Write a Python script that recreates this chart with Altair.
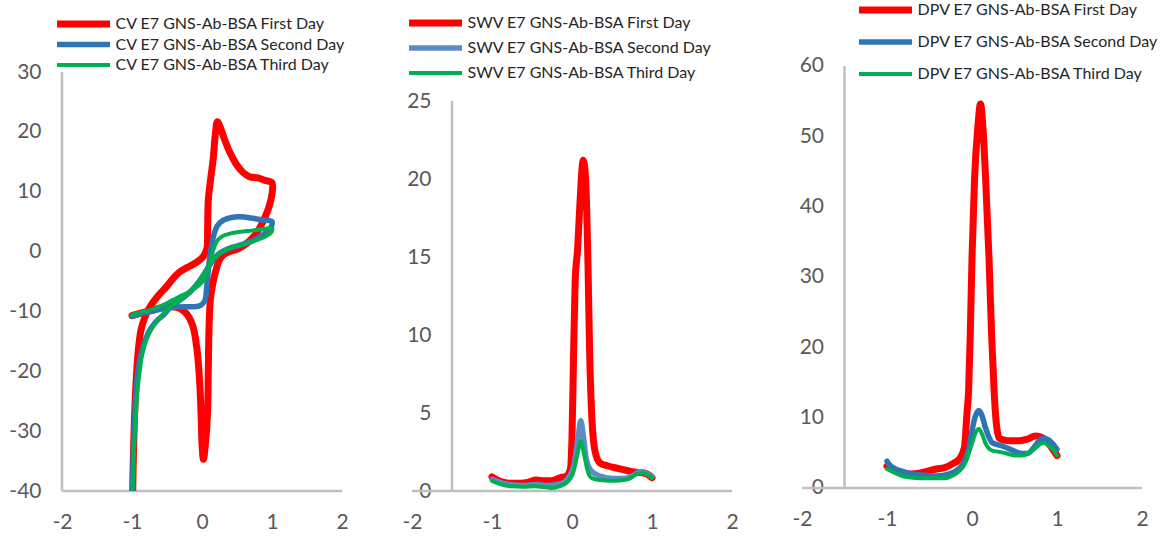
import altair as alt
import pandas as pd

DAYS = ["First Day", "Second Day", "Third Day"]
AXIS_GREY = "#BFBFBF"
LABEL_GREY = "#595959"
FONT = "Lato"

# ---------------- CV (closed loops, points in sweep order) ----------------
cv_first_e = [-0.99, -0.98, -0.965, -0.94, -0.91, -0.87, -0.81, -0.73, -0.62, -0.51, -0.42, -0.32,
              -0.20, -0.08, 0.02, 0.07, 0.08, 0.09, 0.12, 0.16, 0.19, 0.22, 0.26, 0.32, 0.40, 0.49,
              0.58, 0.68, 0.80, 0.90, 1.00,
              1.00, 0.97, 0.92, 0.84, 0.74, 0.62, 0.50, 0.40, 0.30, 0.24, 0.20, 0.16, 0.12, 0.10,
              0.09, 0.08, 0.05, 0.02, 0.00, -0.01, -0.03, -0.07, -0.13, -0.22, -0.32, -0.42, -0.55,
              -0.70, -0.85, -1.00]
cv_first_i = [-40.0, -34.0, -28.0, -21.4, -16.5, -13.0, -10.8, -9.0, -7.3, -5.9, -4.6, -3.4,
              -2.6, -1.8, -0.8, 0.5, 3.5, 8.6, 11.8, 15.5, 19.5, 21.7, 20.8, 18.8, 16.5, 14.6,
              13.3, 12.5, 12.3, 11.9, 11.5,
              9.6, 8.0, 6.3, 4.3, 2.5, 1.2, 0.4, 0.0, -0.6, -1.6, -3.1, -5.0, -8.0, -13.0,
              -20.0, -26.8, -32.0, -34.7, -32.0, -28.5, -22.5, -16.5, -12.5, -10.4, -9.5, -9.2, -9.3,
              -9.8, -10.2, -10.7]

cv_second_e = [-1.00, -0.85, -0.70, -0.55, -0.40, -0.25, -0.10, -0.02, 0.04, 0.07, 0.10, 0.13, 0.17,
               0.22, 0.30, 0.42, 0.55, 0.70, 0.85, 1.00,
               0.99, 0.93, 0.82, 0.68, 0.52, 0.38, 0.26, 0.16, 0.07, -0.03, -0.15, -0.30, -0.45,
               -0.55, -0.65, -0.75, -0.83, -0.90, -0.94, -0.97, -0.985, -0.99]
cv_second_i = [-10.8, -10.3, -9.9, -9.5, -9.3, -9.2, -9.2, -9.0, -8.2, -5.5, -2.0, 0.5, 2.8,
               4.3, 5.2, 5.7, 5.8, 5.6, 5.3, 5.0,
               4.2, 3.3, 2.4, 1.6, 1.0, 0.5, -0.2, -1.4, -3.0, -4.8, -6.5, -8.0, -9.3,
               -10.6, -11.6, -13.2, -15.5, -18.8, -23.0, -30.0, -35.0, -40.0]

cv_third_e = [-1.00, -0.85, -0.70, -0.55, -0.42, -0.30, -0.18, -0.06, 0.04, 0.10, 0.15, 0.20, 0.28,
              0.40, 0.55, 0.70, 0.85, 1.00,
              0.99, 0.92, 0.80, 0.65, 0.50, 0.36, 0.25, 0.15, 0.06, -0.04, -0.16, -0.30, -0.45,
              -0.56, -0.67, -0.77, -0.85, -0.91, -0.95, -0.975, -0.99]
cv_third_i = [-10.6, -10.1, -9.6, -8.9, -8.1, -7.4, -6.7, -5.8, -4.5, -2.5, -0.2, 1.5, 2.5,
              3.0, 3.3, 3.5, 3.7, 3.9,
              3.2, 2.6, 2.0, 1.4, 0.9, 0.4, -0.3, -1.5, -3.2, -5.0, -6.6, -8.0, -9.2,
              -10.5, -12.0, -14.0, -17.0, -22.0, -28.0, -34.0, -40.0]

# ---------------- SWV ----------------
swv_first_e = [-1.00, -0.95, -0.85, -0.76, -0.65, -0.55, -0.45, -0.35, -0.26, -0.15, -0.07, -0.02, 0.00,
               0.02, 0.04, 0.07, 0.10, 0.14, 0.17, 0.20, 0.22, 0.25, 0.29, 0.35, 0.45, 0.57, 0.70,
               0.80, 0.90, 0.95, 1.00]
swv_first_i = [0.90, 0.75, 0.55, 0.50, 0.50, 0.55, 0.70, 0.65, 0.65, 0.85, 0.95, 1.40, 3.50,
               8.80, 13.5, 15.5, 18.5, 21.2, 20.0, 14.5, 9.00, 4.50, 2.50, 1.80, 1.60, 1.45, 1.30,
               1.20, 1.15, 1.05, 0.85]

swv_second_e = [-1.00, -0.90, -0.76, -0.60, -0.46, -0.30, -0.15, -0.05, 0.03, 0.08, 0.11, 0.14, 0.18,
                0.24, 0.35, 0.50, 0.65, 0.78, 0.85, 0.92, 1.00]
swv_second_i = [0.75, 0.55, 0.40, 0.35, 0.42, 0.35, 0.45, 0.80, 1.80, 3.60, 4.50, 3.60, 2.00,
                1.30, 0.95, 0.80, 0.80, 1.05, 1.25, 1.15, 0.90]

swv_third_e = [-1.00, -0.90, -0.76, -0.60, -0.46, -0.26, -0.09, 0.01, 0.07, 0.11, 0.15, 0.19,
               0.24, 0.35, 0.48, 0.60, 0.70, 0.82, 0.90, 0.95, 1.00]
swv_third_i = [0.65, 0.45, 0.30, 0.28, 0.30, 0.20, 0.45, 1.10, 2.40, 3.20, 2.40, 1.40,
               0.85, 0.70, 0.65, 0.68, 0.75, 1.10, 1.15, 1.05, 0.85]

# ---------------- DPV ----------------
dpv_first_e = [-1.00, -0.90, -0.82, -0.72, -0.62, -0.52, -0.42, -0.32, -0.22, -0.15, -0.09, -0.06,
               -0.04, -0.02, 0.00, 0.03, 0.07, 0.10, 0.13, 0.16, 0.20, 0.23, 0.26, 0.28, 0.32, 0.38,
               0.44, 0.54, 0.64, 0.75, 0.82, 0.87, 0.94, 1.00]
dpv_first_i = [3.1, 2.4, 2.1, 2.0, 2.1, 2.4, 2.7, 2.9, 3.5, 4.1, 5.7, 10.5,
               13.8, 22.0, 32.7, 44.0, 51.5, 54.6, 51.0, 44.0, 32.7, 22.0, 13.8, 10.0, 7.1, 6.8,
               6.7, 6.7, 6.9, 7.4, 7.2, 6.8, 5.7, 4.6]

dpv_second_e = [-1.00, -0.97, -0.90, -0.80, -0.70, -0.55, -0.42, -0.30, -0.19, -0.12, -0.07, -0.03,
                0.00, 0.04, 0.08, 0.12, 0.16, 0.20, 0.24, 0.35, 0.45, 0.55, 0.62, 0.67, 0.73, 0.79,
                0.84, 0.89, 0.94, 1.00]
dpv_second_i = [3.8, 3.3, 2.7, 2.3, 2.0, 1.8, 1.7, 1.9, 2.4, 3.2, 4.3, 6.0,
                8.1, 10.2, 11.0, 10.2, 8.5, 7.2, 6.4, 6.0, 5.5, 5.0, 4.9, 5.0, 5.8, 6.7,
                7.1, 6.9, 6.4, 5.5]

dpv_third_e = [-1.00, -0.90, -0.82, -0.72, -0.62, -0.45, -0.31, -0.22, -0.15, -0.09, -0.04, 0.00,
               0.04, 0.08, 0.12, 0.16, 0.20, 0.24, 0.34, 0.44, 0.52, 0.59, 0.67, 0.75, 0.81, 0.85,
               0.90, 0.94, 1.00]
dpv_third_i = [2.7, 2.1, 1.7, 1.5, 1.4, 1.4, 1.4, 1.8, 2.4, 3.3, 4.8, 6.3,
               7.8, 8.4, 7.6, 6.3, 5.6, 5.3, 5.1, 4.8, 4.6, 4.6, 5.0, 5.7, 6.3, 6.4,
               6.0, 5.7, 4.6]

X_TICKS = [-2, -1, 0, 1, 2]
CV_TICKS = [-40, -30, -20, -10, 0, 10, 20, 30]
SWV_TICKS = [0, 5, 10, 15, 20, 25]
DPV_TICKS = [0, 10, 20, 30, 40, 50, 60]

# legend key: a horizontal stroke drawn from the symbol centre to the right
KEY_PATH = "M0,0H10"
KEY_SIZE = 112.4        # sqrt(size)/2 * 10 -> about 53 px long


def frame(prefix, curves):
    rows = []
    for day, (es, cs) in zip(DAYS, curves):
        for k, (e, c) in enumerate(zip(es, cs)):
            rows.append({"E": e, "I": c, "series": f"{prefix} E7 GNS-Ab-BSA {day}", "k": k})
    return pd.DataFrame(rows)


def panel(prefix, curves, colors, y_ticks, y_domain, y_axis_at, width, height,
          legend_x, legend_y, row_pad, interp, x_axis_offset=0):
    df = frame(prefix, curves)
    names = [f"{prefix} E7 GNS-Ab-BSA {d}" for d in DAYS]
    x_scale = alt.Scale(domain=[min(X_TICKS), max(X_TICKS)], nice=False, zero=False)
    y_scale = alt.Scale(domain=y_domain, nice=False, zero=False)
    axis_offset = -(y_axis_at - min(X_TICKS)) / (max(X_TICKS) - min(X_TICKS)) * width

    # axis lines
    frame_df = pd.DataFrame([
        {"E": y_axis_at, "E2": y_axis_at, "I": min(y_ticks), "I2": max(y_ticks)},
        {"E": min(X_TICKS), "E2": max(X_TICKS), "I": min(y_ticks), "I2": min(y_ticks)},
    ])
    axes = alt.Chart(frame_df).mark_rule(color=AXIS_GREY, strokeWidth=2.5).encode(
        x=alt.X("E:Q", scale=x_scale,
                axis=alt.Axis(values=X_TICKS, title=None, domain=False, ticks=False, grid=False,
                              labelPadding=20, labelFlush=False, labelFont=FONT, labelFontSize=21,
                              labelColor=LABEL_GREY, labelExpr="'' + datum.value",
                              offset=x_axis_offset)),
        x2="E2:Q",
        y=alt.Y("I:Q", scale=y_scale,
                axis=alt.Axis(values=y_ticks, title=None, domain=False, ticks=False, grid=False,
                              labelPadding=21, labelFont=FONT, labelFontSize=21,
                              labelColor=LABEL_GREY, labelExpr="'' + datum.value",
                              offset=axis_offset)),
        y2="I2:Q",
    )

    legend = alt.Legend(orient="none", legendX=legend_x, legendY=legend_y, title=None,
                        symbolType=KEY_PATH, symbolSize=KEY_SIZE, labelFont=FONT, labelFontSize=16,
                        labelColor="#262626", rowPadding=row_pad, labelOffset=49.5, labelLimit=400,
                        padding=0, clipHeight=18)
    lines = alt.Chart(df).mark_line(interpolate=interp, strokeCap="round", strokeJoin="round",
                                    clip=True).encode(
        x=alt.X("E:Q", scale=x_scale),
        y=alt.Y("I:Q", scale=y_scale),
        color=alt.Color("series:N", scale=alt.Scale(domain=names, range=colors), legend=legend),
        strokeWidth=alt.StrokeWidth("series:N", scale=alt.Scale(domain=names, range=[7, 4, 4]),
                                    legend=legend),
        order="k:Q",
    )
    return alt.layer(axes, lines).properties(width=width, height=height)


H = 485
cv = panel("CV", [(cv_first_e, cv_first_i), (cv_second_e, cv_second_i), (cv_third_e, cv_third_i)],
           ["#FF0000", "#2E75B6", "#00B050"], CV_TICKS, [-40, 41.03], -2, 280, H,
           -14, 9, 2.5, "catmull-rom")
swv = panel("SWV", [(swv_first_e, swv_first_i), (swv_second_e, swv_second_i), (swv_third_e, swv_third_i)],
            ["#FF0000", "#5B8CC6", "#00B050"], SWV_TICKS, [0, 31.09], -1.5, 320, H,
            -12, 8, 7, "monotone")
dpv = panel("DPV", [(dpv_first_e, dpv_first_i), (dpv_second_e, dpv_second_i), (dpv_third_e, dpv_third_i)],
            ["#FF0000", "#2E75B6", "#00B050"], DPV_TICKS, [-0.43, 68.53], -1.5, 340, H,
            48, -5, 14, "monotone", x_axis_offset=-3)

chart = alt.hconcat(cv, swv, dpv, spacing=70, bounds="flush").resolve_scale(
    color="independent", strokeWidth="independent", x="independent", y="independent"
).configure_view(stroke=None).properties(
    padding={"left": 8, "top": 1, "right": 5, "bottom": 5}, background="white"
)

chart.save("out.html", embed_options={"renderer": "svg", "actions": False})
